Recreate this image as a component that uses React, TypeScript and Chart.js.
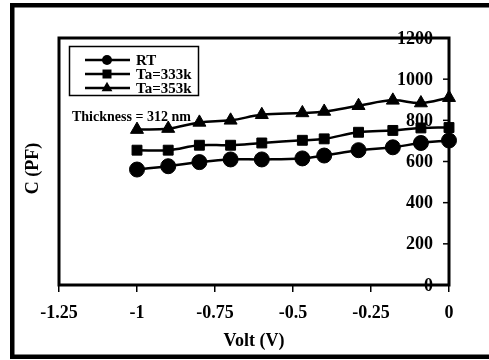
import React, { useEffect, useRef } from 'react';
import { Chart, registerables } from 'chart.js';

Chart.register(...registerables);

// ---- data ----
const volts = [-1, -0.9, -0.8, -0.7, -0.6, -0.47, -0.4, -0.29, -0.18, -0.09, 0];
const capRT = [561, 577, 597, 610, 610, 615, 629, 655, 669, 690, 702];
const capTa333 = [655, 655, 679, 679, 690, 703, 710, 742, 751, 763, 765];
const capTa353 = [755, 760, 790, 800, 827, 836, 843, 871, 897, 884, 910];
const seriesNames = ['RT', 'Ta=333k', 'Ta=353k'];
const seriesStyles = ['circle', 'rect', 'triangle'];
const annotationText = 'Thickness = 312 nm';
const xTitle = 'Volt (V)';
const yTitle = 'C (PF)';
const xRange = [-1.25, 0];
const yRange = [0, 1200];

const FONT = '"Liberation Serif", "Times New Roman", serif';

function drawMarker(ctx: CanvasRenderingContext2D, style: string, x: number, y: number, s: number) {
  ctx.beginPath();
  if (style === 'circle') {
    ctx.arc(x, y, s, 0, Math.PI * 2);
  } else if (style === 'rect') {
    ctx.rect(x - s, y - s, 2 * s, 2 * s);
  } else {
    const r = s * 1.25;
    ctx.moveTo(x, y - r);
    ctx.lineTo(x + r * 0.866, y + r * 0.5);
    ctx.lineTo(x - r * 0.866, y + r * 0.5);
    ctx.closePath();
  }
  ctx.fill();
}

const decor = {
  id: 'decor',
  beforeDraw(chart: any) {
    const { ctx, width, height } = chart;
    ctx.save();
    ctx.fillStyle = '#fff';
    ctx.fillRect(0, 0, width, height);
    ctx.restore();
  },
  beforeDatasetsDraw(chart: any) {
    const { ctx, chartArea: a } = chart;
    const ys = chart.scales.y;
    ctx.save();
    ctx.fillStyle = '#000';
    ctx.strokeStyle = '#000';
    ctx.font = `bold 18px ${FONT}`;
    ctx.textAlign = 'right';
    ctx.textBaseline = 'middle';
    ys.ticks.forEach((t: any) => {
      const py = ys.getPixelForValue(t.value);
      ctx.fillText(String(t.value), a.right - 16, py + 1);
    });
    ctx.lineWidth = 1.5;
    ys.ticks.forEach((t: any) => {
      const py = ys.getPixelForValue(t.value);
      ctx.beginPath();
      ctx.moveTo(a.right - 6, py);
      ctx.lineTo(a.right, py);
      ctx.stroke();
    });
    ctx.lineWidth = 3;
    ctx.strokeRect(a.left, a.top, a.right - a.left, a.bottom - a.top);
    ctx.restore();
  },
  afterDraw(chart: any) {
    const { ctx, chartArea: a } = chart;
    ctx.save();
    ctx.strokeStyle = '#000';
    ctx.fillStyle = '#000';
    // outer frame
    ctx.lineWidth = 4.5;
    ctx.strokeRect(12.25, 5.25, 490, 351.5);
    // y title
    ctx.save();
    ctx.translate(33, (a.top + a.bottom) / 2 + 7);
    ctx.rotate(-Math.PI / 2);
    ctx.font = `bold 18px ${FONT}`;
    ctx.textAlign = 'center';
    ctx.textBaseline = 'middle';
    ctx.fillText(yTitle, 0, 0);
    ctx.restore();
    // legend box
    ctx.lineWidth = 1.5;
    ctx.strokeRect(69.5, 46.5, 129, 49);
    const rows = [60, 74, 88];
    const sizes = [5, 4.5, 5];
    ctx.font = `bold 15px ${FONT}`;
    ctx.textAlign = 'left';
    ctx.textBaseline = 'middle';
    seriesNames.forEach((name, i) => {
      const y = rows[i];
      ctx.lineWidth = 2.5;
      ctx.beginPath();
      ctx.moveTo(85, y);
      ctx.lineTo(130, y);
      ctx.stroke();
      drawMarker(ctx, seriesStyles[i], 107, y, sizes[i]);
      ctx.fillText(name, 136, y + 1);
    });
    // annotation
    ctx.font = `bold 14px ${FONT}`;
    ctx.fillText(annotationText, 72, 117);
    ctx.restore();
  },
};

export default function App() {
  const ref = useRef<HTMLCanvasElement | null>(null);
  useEffect(() => {
    if (!ref.current) return;
    const mk = (label: string, vals: number[], style: string, r: number) => ({
      label,
      data: volts.map((v, i) => ({ x: v, y: vals[i] })),
      borderColor: '#000',
      backgroundColor: '#000',
      pointBackgroundColor: '#000',
      pointBorderColor: '#000',
      borderWidth: 2.5,
      pointStyle: style,
      pointRadius: r,
      pointBorderWidth: 1,
      tension: 0.4,
      clip: false as any,
    });
    const chart = new Chart(ref.current, {
      type: 'line',
      data: {
        datasets: [
          mk(seriesNames[0], capRT, 'circle', 7.5),
          mk(seriesNames[1], capTa333, 'rect', 7),
          mk(seriesNames[2], capTa353, 'triangle', 7.5),
        ],
      },
      options: {
        responsive: false,
        animation: false,
        devicePixelRatio: 1,
        layout: { padding: { left: 59, top: 38, right: 0, bottom: 0 } },
        plugins: { legend: { display: false }, tooltip: { enabled: false } },
        scales: {
          x: {
            type: 'linear',
            min: xRange[0],
            max: xRange[1],
            ticks: {
              stepSize: 0.25,
              color: '#000',
              padding: 11,
              maxRotation: 0,
              font: { family: FONT, size: 18, weight: 'bold' },
              callback: (v: any) => String(Math.round(Number(v) * 100) / 100),
            },
            grid: {
              display: true,
              drawOnChartArea: false,
              drawTicks: true,
              tickLength: 7,
              color: '#000',
              lineWidth: 1.5,
            },
            border: { display: false },
            title: {
              display: true,
              text: xTitle,
              color: '#000',
              font: { family: FONT, size: 18, weight: 'bold' },
              padding: { top: 0, bottom: 8 },
            },
            afterFit: (s: any) => {
              s.height = 75;
            },
          },
          y: {
            type: 'linear',
            position: 'right',
            min: yRange[0],
            max: yRange[1],
            ticks: { stepSize: 200, display: false },
            grid: { display: false },
            border: { display: false },
            afterFit: (s: any) => {
              s.width = 40;
            },
          },
        },
      },
      plugins: [decor],
    });
    return () => chart.destroy();
  }, []);
  return (
    <div style={{ position: 'absolute', left: 0, top: 0, width: 489, height: 360 }}>
      <canvas ref={ref} width={489} height={360} style={{ display: 'block' }} />
    </div>
  );
}
